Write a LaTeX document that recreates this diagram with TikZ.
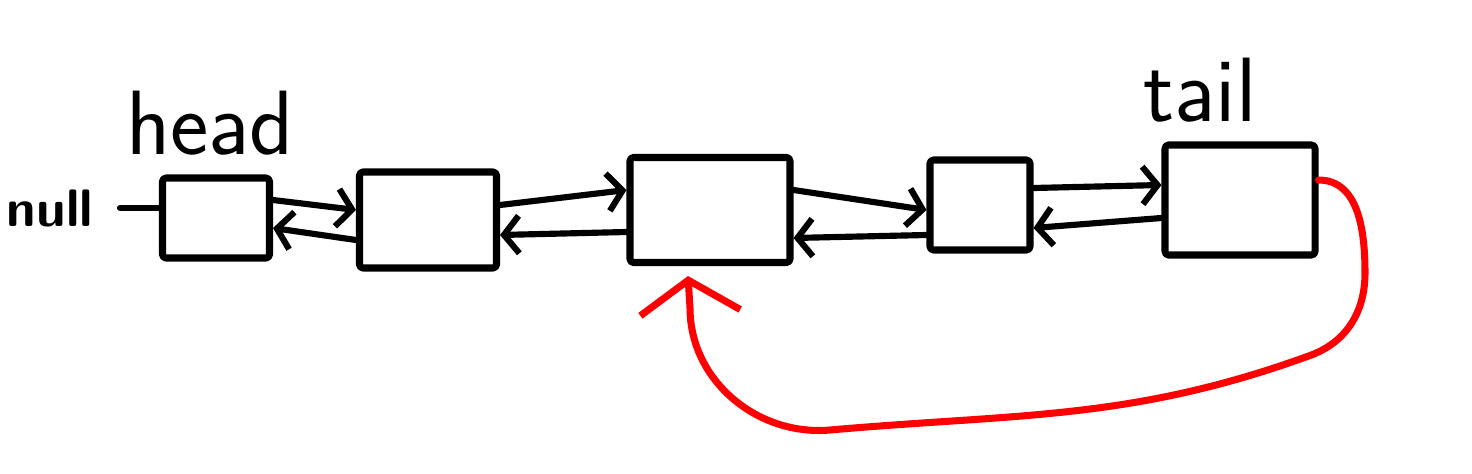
\documentclass[tikz,border=0pt]{standalone}
\usepackage{tikz}
\usetikzlibrary{arrows.meta}

\begin{document}
\begin{tikzpicture}[line cap=round, line join=round,
		listnode/.style={draw, line width=4pt, rounded corners=2pt},
		ptr/.style={line width=3.5pt, -{Straight Barb[length=0.3cm,width=0.75cm,line width=3.5pt]}},
		loopptr/.style={red, line width=4pt, -{Straight Barb[length=0.65cm,width=2cm,line width=4pt]}},
		hand/.style={font=\sffamily\fontsize{52}{54}\selectfont}]
		\useasboundingbox (0,0) rectangle (29.44,9.46);
		% the list cells
		\node[listnode, minimum width=2.14cm, minimum height=1.6cm] (n1) at (4.32,5.10) {};
		\node[listnode, minimum width=2.74cm, minimum height=1.92cm] (n2) at (8.56,5.06) {};
		\node[listnode, minimum width=3.2cm, minimum height=2.1cm] (n3) at (14.2,5.26) {};
		\node[listnode, minimum width=2.0cm, minimum height=1.8cm] (n4) at (19.6,5.36) {};
		\node[listnode, minimum width=3.0cm, minimum height=2.2cm] (n5) at (24.8,5.46) {};
		% labels
		\node[hand] (hd) at (4.2,7.0) {head};
		\node[hand] (tl) at (24.0,7.65) {tail};
		\node[font=\sffamily\bfseries\fontsize{30}{32}\selectfont] (nil) at (1.0,5.3) {null};
		\coordinate (nilend) at (2.4,5.3);
		\draw[line width=3.5pt] ([yshift=0.2cm]n1.west) -- (nilend);
		% next and prev pointers
		\draw[ptr] ([yshift=0.36cm]n1.east) -- ([yshift=0.2cm]n2.west);
		\draw[ptr] ([yshift=-0.4cm]n2.west) -- ([yshift=-0.2cm]n1.east);
		\draw[ptr] ([yshift=0.3cm]n2.east) -- ([yshift=0.4cm]n3.west);
		\draw[ptr] ([yshift=-0.44cm]n3.west) -- ([yshift=-0.3cm]n2.east);
		\draw[ptr] ([yshift=0.4cm]n3.east) -- ([yshift=-0.1cm]n4.west);
		\draw[ptr] ([yshift=-0.6cm]n4.west) -- ([yshift=-0.56cm]n3.east);
		\draw[ptr] ([yshift=0.34cm]n4.east) -- ([yshift=0.3cm]n5.west);
		\draw[ptr] ([yshift=-0.36cm]n5.west) -- ([yshift=-0.46cm]n4.east);
		% tail points back into the list
		\draw[loopptr] ([yshift=0.4cm]n5.east) to[out=0,in=90] (27.3,4.0)
			to[out=-90,in=20] (26.2,2.35)
			to[out=200,in=5] (16.6,0.86)
			to[out=185,in=-90] (13.8,3.3)
			-- ([xshift=-0.44cm,yshift=-0.2cm]n3.south);
	\end{tikzpicture}
\end{document}
